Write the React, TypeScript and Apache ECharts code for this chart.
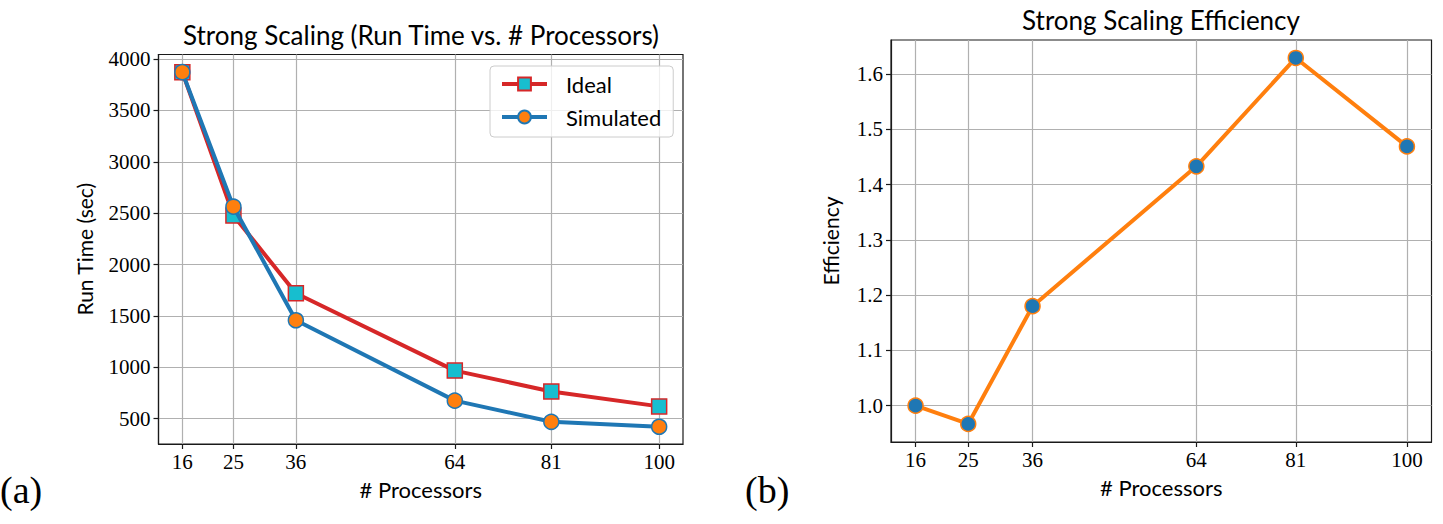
import React, { useEffect, useRef } from "react";
import * as echarts from "echarts";

// Processor counts on the x axis of both panels
const processors = [16, 25, 36, 64, 81, 100];
// Run times in seconds
const idealTime = [3872, 2478, 1721, 968, 765, 620];
const simulatedTime = [3872, 2563, 1458, 676, 470, 422];
// Strong scaling efficiency
const efficiency = [1.0, 0.967, 1.18, 1.433, 1.629, 1.469];
// Tick labels
const runTimeTicks = [500, 1000, 1500, 2000, 2500, 3000, 3500, 4000];
const efficiencyTicks = [1.0, 1.1, 1.2, 1.3, 1.4, 1.5, 1.6];

const SERIF = "'Liberation Serif', 'DejaVu Serif', serif";
const SANS = "Lato, 'Noto Sans', sans-serif";
const GRID_COLOR = "#b0b0b0";
const FRAME_COLOR = "#1a1a1a";

function xAxisFor(gridIndex: number) {
  return {
    type: "value",
    gridIndex,
    min: 11.8,
    max: 104.2,
    name: "# Processors",
    nameLocation: "middle",
    nameGap: 34,
    nameTextStyle: { fontFamily: SANS, fontSize: 22, color: "#000" },
    axisLine: { show: true, lineStyle: { color: FRAME_COLOR, width: 1.2 } },
    axisTick: {
      show: true,
      inside: false,
      length: 5,
      customValues: processors,
      lineStyle: { color: FRAME_COLOR, width: 1.2 },
    },
    axisLabel: {
      customValues: processors,
      formatter: (v: number) => String(v),
      fontFamily: SERIF,
      fontSize: 21,
      color: "#000",
      margin: 7,
    },
    splitLine: { show: true, lineStyle: { color: GRID_COLOR, width: 1.2 } },
  };
}

export default function App() {
  const ref = useRef<HTMLDivElement>(null);

  useEffect(() => {
    if (!ref.current) return;
    const chart = echarts.init(ref.current, undefined, { renderer: "svg" });

    const option = {
      animation: false,
      backgroundColor: "#fff",
      title: [
        {
          text: "Strong Scaling (Run Time vs. # Processors)",
          left: 421,
          top: 22,
          textAlign: "center",
          textStyle: { fontFamily: SANS, fontSize: 26, fontWeight: "normal", color: "#000" },
          padding: 0,
        },
        {
          text: "Strong Scaling Efficiency",
          left: 1161,
          top: 7,
          textAlign: "center",
          textStyle: { fontFamily: SANS, fontSize: 26, fontWeight: "normal", color: "#000" },
          padding: 0,
        },
      ],
      legend: {
        data: ["Ideal", "Simulated"],
        orient: "vertical",
        left: 490,
        top: 66,
        padding: [7, 12, 9, 10],
        itemWidth: 45,
        itemHeight: 16,
        itemGap: 11,
        backgroundColor: "rgba(255,255,255,0.8)",
        borderColor: "#cccccc",
        borderWidth: 1,
        borderRadius: 4,
        lineStyle: { width: 4 },
        textStyle: { fontFamily: SANS, fontSize: 22, color: "#000", padding: [0, 0, 0, 14] },
      },
      grid: [
        {
          left: 158.5,
          top: 54.5,
          width: 524.5,
          height: 389.5,
          show: true,
          borderColor: FRAME_COLOR,
          borderWidth: 1.2,
          containLabel: false,
        },
        {
          left: 891,
          top: 40,
          width: 540.5,
          height: 402,
          show: true,
          borderColor: FRAME_COLOR,
          borderWidth: 1.2,
          containLabel: false,
        },
      ],
      xAxis: [xAxisFor(0), xAxisFor(1)],
      yAxis: [
        {
          type: "value",
          gridIndex: 0,
          min: 254,
          max: 4044,
          name: "Run Time (sec)",
          nameLocation: "middle",
          nameGap: 64,
          nameTextStyle: { fontFamily: SANS, fontSize: 21, color: "#000" },
          axisLine: { show: true, lineStyle: { color: FRAME_COLOR, width: 1.2 } },
          axisTick: {
            show: true,
            inside: false,
            length: 5,
            customValues: runTimeTicks,
            lineStyle: { color: FRAME_COLOR, width: 1.2 },
          },
          axisLabel: {
            customValues: runTimeTicks,
            formatter: (v: number) => String(Math.round(v)),
            fontFamily: SERIF,
            fontSize: 21,
            color: "#000",
            margin: 8,
          },
          splitLine: { show: true, lineStyle: { color: GRID_COLOR, width: 1.2 } },
        },
        {
          type: "value",
          gridIndex: 1,
          min: 0.9343,
          max: 1.6615,
          name: "Efficiency",
          nameLocation: "middle",
          nameGap: 50,
          nameTextStyle: { fontFamily: SANS, fontSize: 21, color: "#000" },
          axisLine: { show: true, lineStyle: { color: FRAME_COLOR, width: 1.2 } },
          axisTick: {
            show: true,
            inside: false,
            length: 5,
            customValues: efficiencyTicks,
            lineStyle: { color: FRAME_COLOR, width: 1.2 },
          },
          axisLabel: {
            customValues: efficiencyTicks,
            formatter: (v: number) => v.toFixed(1),
            fontFamily: SERIF,
            fontSize: 21,
            color: "#000",
            margin: 8,
          },
          splitLine: { show: true, lineStyle: { color: GRID_COLOR, width: 1.2 } },
        },
      ],
      series: [
        {
          name: "Ideal",
          type: "line",
          xAxisIndex: 0,
          yAxisIndex: 0,
          data: processors.map((p, i) => [p, idealTime[i]]),
          symbol: "rect",
          symbolSize: 15,
          showAllSymbol: true,
          lineStyle: { color: "#d62728", width: 4 },
          itemStyle: { color: "#17becf", borderColor: "#d62728", borderWidth: 1.5 },
          z: 2,
        },
        {
          name: "Simulated",
          type: "line",
          xAxisIndex: 0,
          yAxisIndex: 0,
          data: processors.map((p, i) => [p, simulatedTime[i]]),
          symbol: "circle",
          symbolSize: 15,
          showAllSymbol: true,
          lineStyle: { color: "#1f77b4", width: 4 },
          itemStyle: { color: "#ff7f0e", borderColor: "#1f77b4", borderWidth: 1.5 },
          z: 3,
        },
        {
          name: "Efficiency",
          type: "line",
          xAxisIndex: 1,
          yAxisIndex: 1,
          data: processors.map((p, i) => [p, efficiency[i]]),
          symbol: "circle",
          symbolSize: 15,
          showAllSymbol: true,
          lineStyle: { color: "#ff7f0e", width: 4 },
          itemStyle: { color: "#1f77b4", borderColor: "#ff7f0e", borderWidth: 1.5 },
          z: 2,
        },
      ],
      graphic: [
        {
          type: "text",
          left: 0,
          top: 471,
          style: { text: "(a)", font: `38px ${SERIF}`, fill: "#000" },
        },
        {
          type: "text",
          left: 745,
          top: 471,
          style: { text: "(b)", font: `38px ${SERIF}`, fill: "#000" },
        },
      ],
    };

    chart.setOption(option as any);
    return () => chart.dispose();
  }, []);

  return (
    <div
      ref={ref}
      style={{ position: "fixed", left: 0, top: 0, width: 1443, height: 524, background: "#fff" }}
    />
  );
}
